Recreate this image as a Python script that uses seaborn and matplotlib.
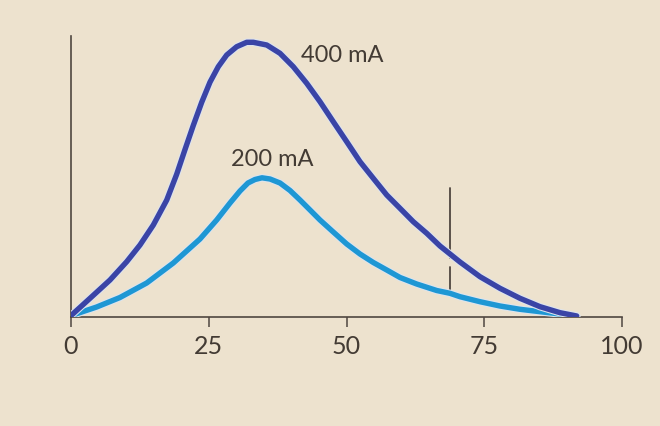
import matplotlib
matplotlib.use("Agg")
import matplotlib.pyplot as plt
import matplotlib.patheffects as pe
import pandas as pd
import seaborn as sns

# ---- data ----
x_400 = [0, 3.45, 7.08, 10.11, 12.52, 14.94, 17.37, 19.18, 20.69, 22.20, 23.72, 25.23,
         26.73, 28.26, 30.07, 31.89, 33.09, 35.52, 37.93, 40.34, 42.78, 45.19, 47.60,
         50.04, 52.45, 54.86, 57.30, 59.71, 62.12, 64.56, 66.97, 70.60, 74.23, 77.86,
         81.49, 85.12, 88.75, 91.78]
y_400 = [0.5, 6.65, 13.17, 19.68, 25.62, 32.74, 41.6, 50.8, 59.6, 68.2, 76.4, 83.6,
         89.08, 93.24, 96.19, 97.76, 97.76, 96.80, 93.84, 89.08, 83.17, 76.62, 69.50,
         62.38, 55.27, 49.36, 43.42, 38.68, 33.91, 29.79, 25.27, 19.57, 14.34, 10.21,
         6.65, 3.67, 1.53, 0.36]

x_200 = [0, 4.66, 8.89, 13.74, 18.57, 23.41, 26.44, 28.86, 30.67, 32.12, 33.39, 34.66,
         36.12, 37.93, 39.75, 41.56, 43.38, 45.19, 47.60, 50.04, 52.45, 54.86, 57.30,
         59.71, 62.74, 66.37, 68.78, 70.60, 74.23, 77.86, 81.49, 85.12, 88.75, 91.78]
y_200 = [0.5, 3.56, 6.94, 12.10, 19.22, 27.76, 34.52, 40.57, 44.84, 47.69, 48.93, 49.54,
         49.11, 47.69, 45.02, 41.64, 38.08, 34.52, 30.25, 25.98, 22.42, 19.40, 16.73,
         14.06, 11.74, 9.43, 8.43, 7.22, 5.44, 3.91, 2.74, 1.89, 1.07, 0.36]

series_labels = ["400 mA", "200 mA"]
x_ticks = [0, 25, 50, 75, 100]
marker_x = 68.8
marker_top = 45.9
marker_bottom = 8.43

# ---- style ----
bg = "#EDE2CE"
axis_col = "#4f4640"
text_col = "#433b34"
col_400 = "#3A44A6"
col_200 = "#1E97D4"

sns.set_theme(style="white")
plt.rcParams["font.family"] = ["Lato", "DejaVu Sans"]

fig = plt.figure(figsize=(6.6, 4.26), dpi=100, facecolor=bg)
ax = fig.add_axes([71 / 660, (426 - 317) / 426, 551 / 660, 281 / 426])
ax.set_facecolor(bg)

df400 = pd.DataFrame({"x": x_400, "y": y_400})
df200 = pd.DataFrame({"x": x_200, "y": y_200})

halo = [pe.Stroke(linewidth=5.4, foreground="#dde4ee"), pe.Normal()]

# vertical marker line (behind curves, with a small gap below the 400 mA curve)
ax.plot([marker_x, marker_x], [21.0, marker_top], color=axis_col, lw=1.3, zorder=1)
ax.plot([marker_x, marker_x], [marker_bottom, 17.9], color=axis_col, lw=1.3, zorder=1)

sns.lineplot(data=df200, x="x", y="y", ax=ax, color=col_200, lw=3.9, sort=False,
             estimator=None, zorder=3, path_effects=halo, solid_capstyle="round",
             solid_joinstyle="round")
sns.lineplot(data=df400, x="x", y="y", ax=ax, color=col_400, lw=3.9, sort=False,
             estimator=None, zorder=4, path_effects=halo, solid_capstyle="round",
             solid_joinstyle="round")

ax.text(49.2, 93.2, series_labels[0], ha="center", va="center", fontsize=17,
        color=text_col)
ax.text(36.5, 55.9, series_labels[1], ha="center", va="center", fontsize=17,
        color=text_col)

ax.set_xlim(0, 100)
ax.set_ylim(0, 100)
ax.set_xticks(x_ticks)
ax.set_xticklabels([str(t) for t in x_ticks], fontsize=18, color=text_col)
ax.set_yticks([])
ax.set_xlabel("")
ax.set_ylabel("")
ax.tick_params(axis="x", direction="out", length=7, width=1.1, color=axis_col, pad=6, bottom=True)

for s in ["top", "right"]:
    ax.spines[s].set_visible(False)
for s in ["left", "bottom"]:
    ax.spines[s].set_color(axis_col)
    ax.spines[s].set_linewidth(1.2)

fig.savefig("out.png", dpi=100, facecolor=bg)
